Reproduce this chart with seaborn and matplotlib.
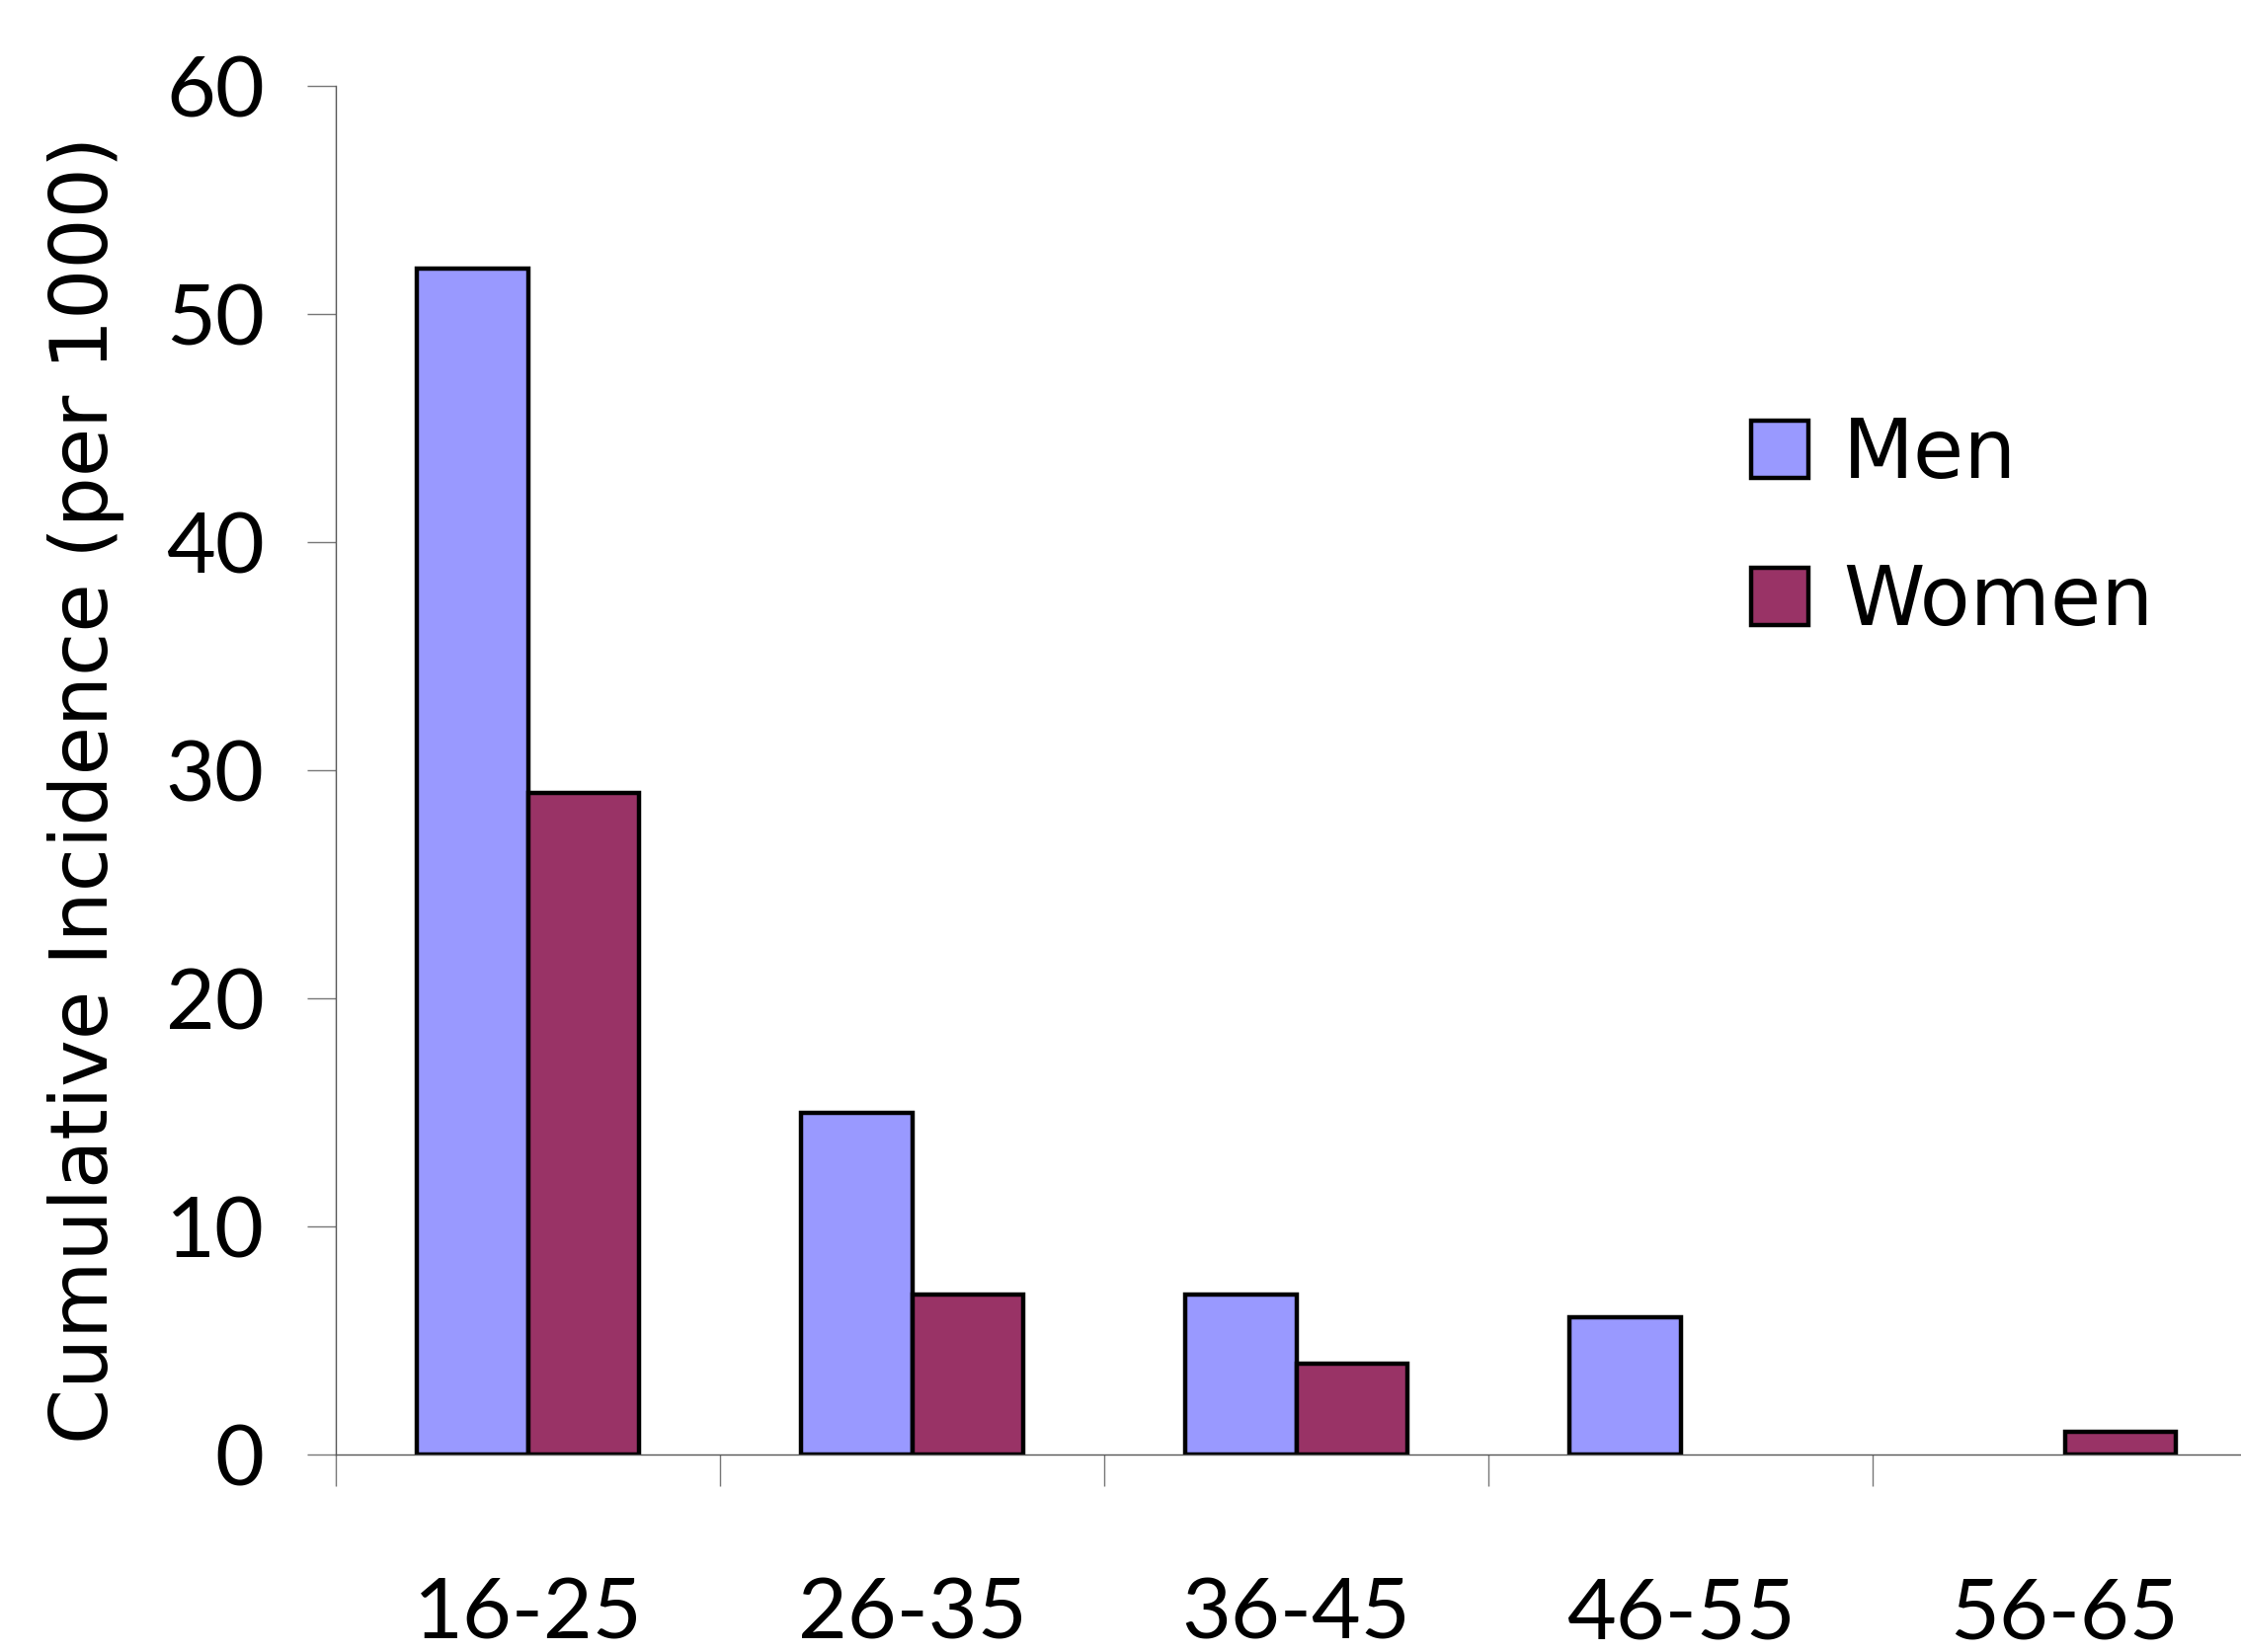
import pandas as pd
import matplotlib.pyplot as plt
import seaborn as sns
from matplotlib.ticker import FixedLocator
from matplotlib.patches import Patch

sns.set_theme(style="white")

# Data
age_groups = ["16-25", "26-35", "36-45", "46-55", "56-65"]
men = [52, 15, 7, 6, 0]
women = [29, 7, 4, 0, 1]
series_names = ["Men", "Women"]
colors = {"Men": "#9999FF", "Women": "#993366"}

df = pd.DataFrame({
    "age": age_groups * 2,
    "value": men + women,
    "sex": ["Men"] * len(age_groups) + ["Women"] * len(age_groups),
})

tick_font = ["Lato", "DejaVu Sans"]
label_font = ["DejaVu Sans"]

fig = plt.figure(figsize=(22.69, 16.73), dpi=100)
ax = fig.add_axes([340 / 2269, 200 / 1673, 1945 / 2269, 1386 / 1673])

sns.barplot(data=df, x="age", y="value", hue="sex", order=age_groups,
            hue_order=series_names, palette=colors, width=0.58,
            edgecolor="black", linewidth=3.2, saturation=1, legend=False, ax=ax)

# hide empty bars (no visible bar in the original)
for p in ax.patches:
    if p.get_height() == 0:
        p.set_visible(False)

ax.set_xlim(-0.5, 4.5)
ax.set_ylim(0, 60)
ax.set_yticks(range(0, 61, 10))
ax.set_xlabel("")
ax.set_ylabel("")

# spines
for side in ["top", "right"]:
    ax.spines[side].set_visible(False)
for side in ["left", "bottom"]:
    ax.spines[side].set_color("#555555")
    ax.spines[side].set_linewidth(1.0)

# category labels at centres, ticks at boundaries
ax.xaxis.set_minor_locator(FixedLocator([i - 0.5 for i in range(len(age_groups) + 1)]))
ax.tick_params(axis="x", which="major", length=0, pad=89)
ax.tick_params(axis="x", which="minor", bottom=True, direction="out",
               length=23, width=1.0, color="#777777")
ax.tick_params(axis="y", which="major", left=True, direction="out",
               length=21, width=1.0, color="#777777", pad=31)
for lbl in ax.get_xticklabels() + ax.get_yticklabels():
    lbl.set_family(tick_font)
    lbl.set_fontsize(62)
    lbl.set_color("black")

fig.text(87 / 2269, 1 - 800 / 1673, "Cumulative Incidence (per 1000)",
         rotation=90, ha="center", va="center", fontsize=58,
         family=label_font, color="black")

handles = [Patch(facecolor=colors[s], edgecolor="black", linewidth=3.2, label=s)
           for s in series_names]
leg = ax.legend(handles=handles, loc="upper left",
                bbox_to_anchor=(1773 / 2269, 1 - 420 / 1673),
                bbox_transform=fig.transFigure, frameon=False,
                fontsize=60, handlelength=0.7, handleheight=0.7,
                handletextpad=0.42, labelspacing=0.82, borderpad=0,
                borderaxespad=0)
for t in leg.get_texts():
    t.set_family(label_font)
    t.set_color("black")

fig.savefig("out.png", dpi=100, facecolor="white")
